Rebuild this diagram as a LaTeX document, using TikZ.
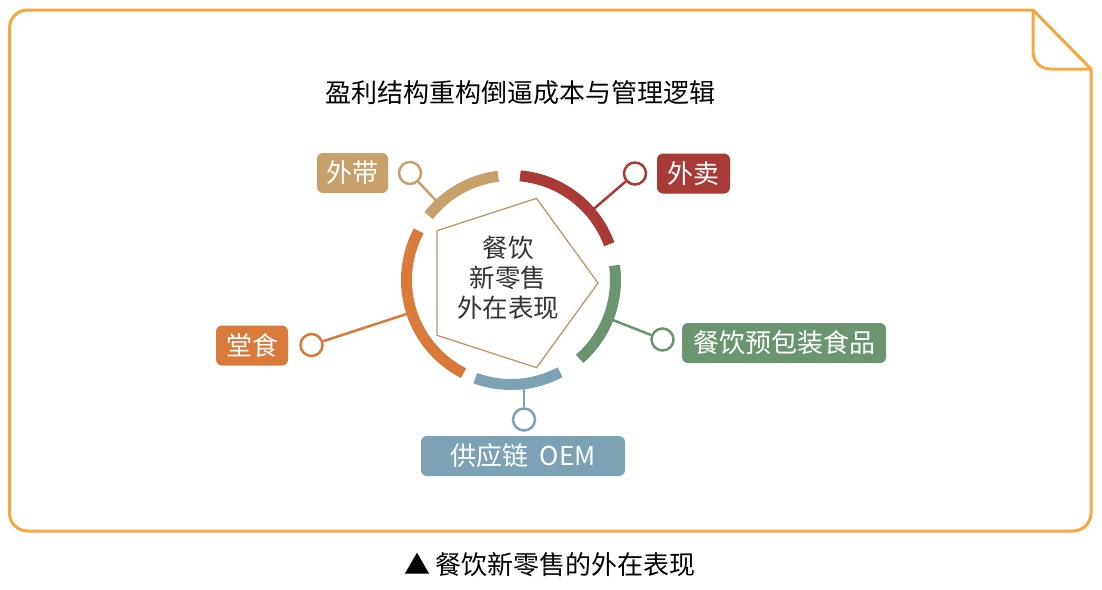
\documentclass[tikz,border=0pt]{standalone}
\usepackage{fontspec}
\setmainfont{Noto Sans CJK SC}
\usetikzlibrary{calc}
\definecolor{frameC}{HTML}{F5A840}
\definecolor{tanC}{HTML}{C8A16A}
\definecolor{redC}{HTML}{A93B36}
\definecolor{greenC}{HTML}{6B9570}
\definecolor{blueC}{HTML}{7DA2B4}
\definecolor{orangeC}{HTML}{D9793A}
\definecolor{pentC}{HTML}{B8986A}
\definecolor{textC}{HTML}{333333}
\tikzset{
  seg/.style={line width=11pt, line cap=butt},
  conn/.style={line width=2.5pt},
  knob/.style={circle, draw=#1, line width=2.5pt, fill=white, minimum size=22pt, inner sep=0pt},
  tag/.style={rounded corners=6pt, fill=#1, text=white, inner sep=0pt, minimum height=40pt,
    font=\fontsize{26pt}{30pt}\selectfont},
}
\begin{document}
\begin{tikzpicture}[x=1pt,y=-1pt]
\useasboundingbox (0,0) rectangle (1102,589);
% frame
\draw[frameC, line width=3pt, line join=round]
  (1033,10) -- (1091,69) -- (1091,513) arc[start angle=0,end angle=90,radius=18]
  -- (27.5,531) arc[start angle=90,end angle=180,radius=18]
  -- (9.5,28) arc[start angle=180,end angle=270,radius=18] -- cycle;
\draw[frameC, line width=3pt, line join=round]
  (1033,10) -- (1033,52) arc[start angle=180,end angle=90,radius=17] -- (1091,69);
% title
\node[font=\fontsize{26pt}{30pt}\selectfont, text=black] (title) at (520,93) {盈利结构重构倒逼成本与管理逻辑};
% centre
\coordinate (O) at (511,280);
% knobs
\node[knob=tanC] (ct) at (410,173) {};
\node[knob=redC] (cr) at (635,173.5) {};
\node[knob=greenC] (cg) at (662.5,339.5) {};
\node[knob=blueC] (cb) at (524,419.5) {};
\node[knob=orangeC] (co) at (311.5,345) {};
\coordinate (at) at ($(O)!105pt!(ct)$);
\coordinate (ar) at ($(O)!105pt!(cr)$);
\coordinate (ag) at ($(O)!105pt!(cg)$);
\coordinate (ab) at (524,386);
\coordinate (ao) at ($(O)!105pt!(co)$);
\draw[conn, tanC] (ct) -- (at);
\draw[conn, redC] (cr) -- (ar);
\draw[conn, greenC] (cg) -- (ag);
\draw[conn, blueC] (cb) -- (ab);
\draw[conn, orangeC] (co) -- (ao);
% ring segments
\draw[seg, tanC] ($(O)+(-142:104.5)$) arc[start angle=-142,end angle=-97,radius=104.5];
\draw[seg, redC] ($(O)+(-85:104.5)$) arc[start angle=-85,end angle=-20,radius=104.5];
\draw[seg, greenC] ($(O)+(-8:104.5)$) arc[start angle=-8,end angle=49,radius=104.5];
\draw[seg, blueC] ($(O)+(62:104.5)$) arc[start angle=62,end angle=110,radius=104.5];
\draw[seg, orangeC] ($(O)+(117:104.5)$) arc[start angle=117,end angle=208,radius=104.5];
% pentagon
\draw[pentC, line width=1.3pt, line join=miter, shift={(509,283)}]
  (0:89) -- (72:89) -- (144:89) -- (216:89) -- (288:89) -- cycle;
\node[align=center, text=textC, font=\fontsize{25.5pt}{30pt}\selectfont] (mid) at (508,278) {餐饮\\新零售\\外在表现};
% tags
\node[tag=tanC, minimum width=71pt] (lt) at (352.5,173) {外带};
\node[tag=redC, minimum width=73pt] (lr) at (693.5,173.5) {外卖};
\node[tag=greenC, minimum width=204pt] (lg) at (784,343) {餐饮预包装食品};
\node[tag=blueC, minimum width=204pt] (lb) at (523,456) {供应链\hspace{0.45em}OEM};
\node[tag=orangeC, minimum width=72pt] (lo) at (252,345.5) {堂食};
% caption
\node[font=\fontsize{26pt}{30pt}\selectfont, text=black] (cap) at (550,565) {▲ 餐饮新零售的外在表现};
\end{tikzpicture}
\end{document}
